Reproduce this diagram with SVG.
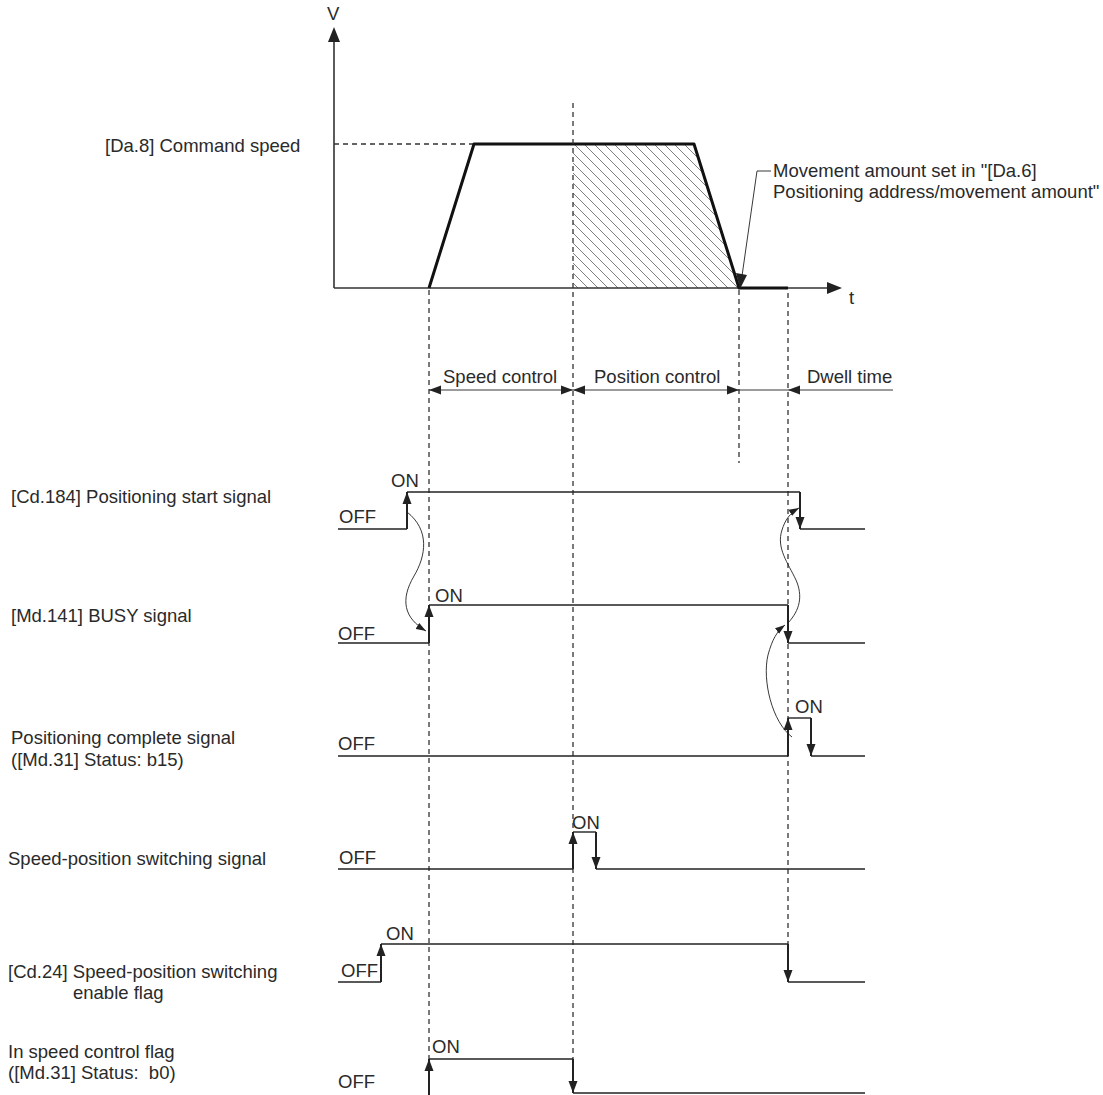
<svg xmlns="http://www.w3.org/2000/svg" width="1103" height="1095" viewBox="0 0 1103 1095">
<style>
text{font-family:"Liberation Sans",Arial,sans-serif;font-size:18.5px;fill:#2a2a2a}
.sig{fill:none;stroke:#222;stroke-width:1.4}
.edge{fill:none;stroke:#222;stroke-width:2}
.dash{fill:none;stroke:#333;stroke-width:1.3;stroke-dasharray:5,4}
.thin{fill:none;stroke:#222;stroke-width:0.9}
.ax{fill:none;stroke:#333;stroke-width:1.6}
</style>
<defs>
<marker id="ah" markerUnits="userSpaceOnUse" markerWidth="13" markerHeight="10" refX="12" refY="5" orient="auto-start-reverse">
<path d="M0,0.5 L12,5 L0,9.5 z" fill="#222"/>
</marker>
<marker id="ahs" markerUnits="userSpaceOnUse" markerWidth="11" markerHeight="8" refX="10" refY="4" orient="auto">
<path d="M0,0.5 L10,4 L0,7.5 z" fill="#222"/>
</marker>
<pattern id="hatch" patternUnits="userSpaceOnUse" width="10" height="10">
<path d="M-1,-1 L11,11 M-1,9 L1,11 M9,-1 L11,1" stroke="#707070" stroke-width="0.9"/>
</pattern>
</defs>

<g id="speed-graph">
<polygon points="573,144 694,144 739,288 573,288" fill="url(#hatch)"/>
<line class="ax" x1="334" y1="288" x2="334" y2="40"/>
<path d="M328,42 L334,27 L340,42 z" fill="#222"/>
<line class="ax" x1="334" y1="288" x2="828" y2="288"/>
<path d="M827,282 L842,288 L827,294 z" fill="#222"/>
<text x="327" y="20">V</text>
<text x="849" y="304">t</text>
<line class="dash" x1="334" y1="144" x2="474" y2="144"/>
<polyline points="429,288 474,144 694,144 739,288 788,288" fill="none" stroke="#111" stroke-width="3" stroke-linejoin="round"/>
<text x="105" y="152">[Da.8] Command speed</text>
</g>

<g id="movement-label">
<text x="773" y="177">Movement amount set in "[Da.6]</text>
<text x="773" y="198">Positioning address/movement amount"</text>
</g>

<g id="control-periods">
<text x="443" y="383">Speed control</text>
<text x="594" y="383">Position control</text>
<text x="807" y="383">Dwell time</text>
</g>

<g id="start-signal">
<text x="11" y="503">[Cd.184] Positioning start signal</text>
<text x="339" y="523">OFF</text>
<text x="391" y="487">ON</text>
</g>

<g id="busy-signal">
<text x="11" y="622">[Md.141] BUSY signal</text>
<text x="338" y="640">OFF</text>
<text x="435" y="602">ON</text>
</g>

<g id="complete-signal">
<text x="11" y="744">Positioning complete signal</text>
<text x="11" y="766">([Md.31] Status: b15)</text>
<text x="338" y="750">OFF</text>
<text x="795" y="713">ON</text>
</g>

<g id="switching-signal">
<text x="8" y="865">Speed-position switching signal</text>
<text x="339" y="864">OFF</text>
<text x="572" y="829">ON</text>
</g>

<g id="enable-flag">
<text x="8" y="978">[Cd.24] Speed-position switching</text>
<text x="73" y="999">enable flag</text>
<text x="341" y="977">OFF</text>
<text x="386" y="940">ON</text>
</g>

<g id="speed-control-flag">
<text x="8" y="1058">In speed control flag</text>
<text x="8" y="1079">([Md.31] Status:&#160; b0)</text>
<text x="338" y="1088">OFF</text>
<text x="432" y="1053">ON</text>
</g>

<g id="connectors">
<line class="dash" x1="429" y1="290" x2="429" y2="1059"/>
<line class="dash" x1="573" y1="103" x2="573" y2="1059"/>
<line class="dash" x1="739" y1="290" x2="739" y2="463"/>
<line class="dash" x1="788" y1="293" x2="788" y2="944"/>

<polyline class="thin" points="771,171 757,171 742,276"/>
<path d="M736,273 L740,289 L747,275 z" fill="#222"/>

<line class="thin" x1="429" y1="390" x2="573" y2="390" marker-start="url(#ah)" marker-end="url(#ah)"/>
<line class="thin" x1="573" y1="390" x2="739" y2="390" marker-start="url(#ah)" marker-end="url(#ah)"/>
<line class="thin" x1="739" y1="390" x2="788" y2="390"/>
<line class="thin" x1="893" y1="390" x2="788" y2="390" marker-end="url(#ah)"/>

<line class="sig" x1="338" y1="529" x2="407" y2="529"/>
<line class="edge" x1="407" y1="529" x2="407" y2="492" marker-end="url(#ah)"/>
<line class="sig" x1="407" y1="492" x2="800" y2="492"/>
<line class="edge" x1="800" y1="492" x2="800" y2="529" marker-end="url(#ah)"/>
<line class="sig" x1="800" y1="529" x2="865" y2="529"/>

<line class="sig" x1="338" y1="643" x2="429" y2="643"/>
<line class="edge" x1="429" y1="643" x2="429" y2="605" marker-end="url(#ah)"/>
<line class="sig" x1="429" y1="605" x2="788" y2="605"/>
<line class="edge" x1="788" y1="605" x2="788" y2="643" marker-end="url(#ah)"/>
<line class="sig" x1="788" y1="643" x2="865" y2="643"/>

<line class="sig" x1="338" y1="756" x2="788" y2="756"/>
<line class="edge" x1="788" y1="756" x2="788" y2="718" marker-end="url(#ah)"/>
<line class="sig" x1="788" y1="718" x2="811" y2="718"/>
<line class="edge" x1="811" y1="718" x2="811" y2="756" marker-end="url(#ah)"/>
<line class="sig" x1="811" y1="756" x2="865" y2="756"/>

<line class="sig" x1="338" y1="869" x2="573" y2="869"/>
<line class="edge" x1="573" y1="869" x2="573" y2="832" marker-end="url(#ah)"/>
<line class="sig" x1="573" y1="832" x2="596" y2="832"/>
<line class="edge" x1="596" y1="832" x2="596" y2="869" marker-end="url(#ah)"/>
<line class="sig" x1="596" y1="869" x2="865" y2="869"/>

<line class="sig" x1="338" y1="982" x2="381" y2="982"/>
<line class="edge" x1="381" y1="982" x2="381" y2="944" marker-end="url(#ah)"/>
<line class="sig" x1="381" y1="944" x2="788" y2="944"/>
<line class="edge" x1="788" y1="944" x2="788" y2="982" marker-end="url(#ah)"/>
<line class="sig" x1="788" y1="982" x2="865" y2="982"/>

<line class="edge" x1="429" y1="1095" x2="429" y2="1059" marker-end="url(#ah)"/>
<line class="sig" x1="429" y1="1059" x2="573" y2="1059"/>
<line class="edge" x1="573" y1="1059" x2="573" y2="1093" marker-end="url(#ah)"/>
<line class="sig" x1="573" y1="1093" x2="865" y2="1093"/>

<path class="thin" d="M407,512 C430,530 426,556 414,576 C400,600 404,618 426,631" marker-end="url(#ahs)"/>
<path class="thin" d="M792,737 C772,722 762,680 768,655 C772,640 777,631 785,625" marker-end="url(#ahs)"/>
<path class="thin" d="M788,623 C800,610 803,596 796,580 C788,563 776,548 782,530 C785,520 790,513 799,508" marker-end="url(#ahs)"/>
</g>
</svg>
